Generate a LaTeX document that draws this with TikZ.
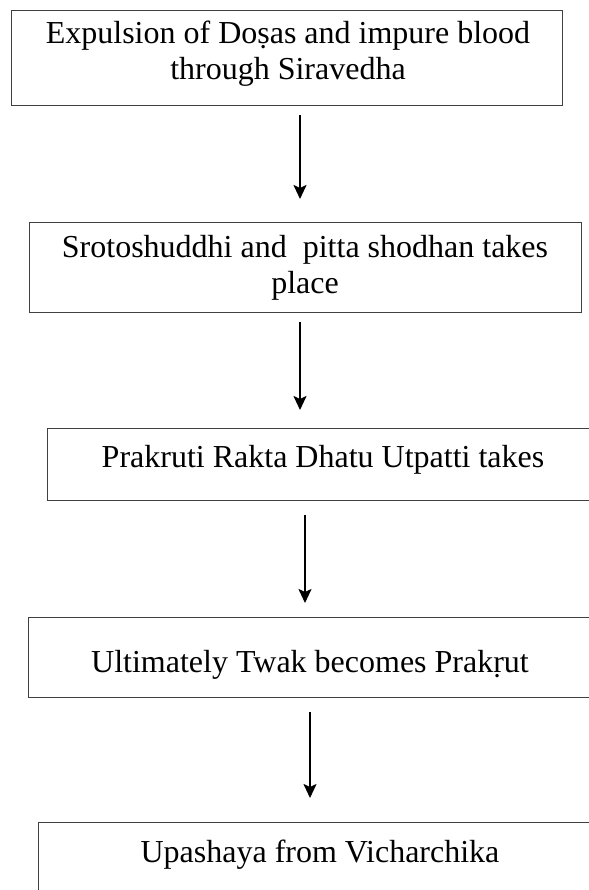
\documentclass[tikz,border=0pt]{standalone}
\usepackage{fontspec}
\setmainfont{Liberation Serif}
\usetikzlibrary{arrows.meta}
\begin{document}
\begin{tikzpicture}[x=1pt,y=-1pt,
  box/.style={draw=black!75,line width=1.3pt,inner sep=0pt,anchor=north west},
  lbl/.style={font=\fontsize{32}{36}\selectfont,align=center,inner sep=0pt},
  arr/.style={line width=2pt,-{Stealth[length=14pt,width=13pt,inset=3pt]}}]
\useasboundingbox (0,0) rectangle (588,890);
\node[box,minimum width=551pt,minimum height=95pt] (b1) at (11,10) {};
\node[box,minimum width=552pt,minimum height=90pt] (b2) at (29,222) {};
\node[box,minimum width=560pt,minimum height=72pt] (b3) at (47,428) {};
\node[box,minimum width=570pt,minimum height=80pt] (b4) at (28,617) {};
\node[box,minimum width=560pt,minimum height=90pt] (b5) at (38,822) {};
\node[lbl] (t1) at (288,54) {Expulsion of Doṣas and impure blood\\through Siravedha};
\node[lbl] (t2) at (305,268) {Srotoshuddhi and\ \ pitta shodhan takes\\place};
\node[lbl] (t3) at (323,460) {Prakruti Rakta Dhatu Utpatti takes};
\node[lbl] (t4) at (310,665) {Ultimately Twak becomes Prakṛut};
\node[lbl] (t5) at (320,855) {Upashaya from Vicharchika};
\coordinate (a1s) at (300,115); \coordinate (a1e) at (300,199);
\coordinate (a2s) at (300,322); \coordinate (a2e) at (300,410);
\coordinate (a3s) at (305,515); \coordinate (a3e) at (305,603);
\coordinate (a4s) at (310,712); \coordinate (a4e) at (310,798);
\draw[arr] (a1s) -- (a1e);
\draw[arr] (a2s) -- (a2e);
\draw[arr] (a3s) -- (a3e);
\draw[arr] (a4s) -- (a4e);
\end{tikzpicture}
\end{document}
